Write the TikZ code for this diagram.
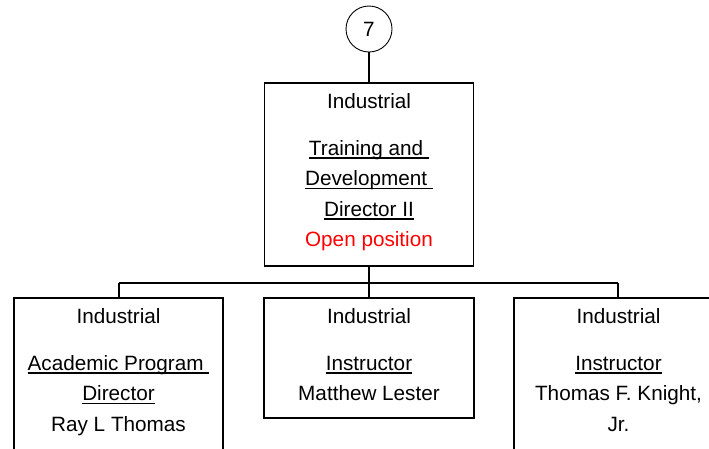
\documentclass[tikz,border=0pt]{standalone}
\usepackage{fontspec}
\setmainfont{Liberation Sans}
\newcommand\myul[1]{\setbox0\hbox{#1}\rlap{\vrule height -2.2pt depth 3.6pt width \wd0}\box0}
\begin{document}
\begin{tikzpicture}[x=1pt,y=-1pt,
  box/.style={draw=black,line width=1.6pt},
  conn/.style={draw=black,line width=1.6pt},
  txt/.style={anchor=base,inner sep=0pt,font=\fontsize{20.7}{24}\selectfont},
  numc/.style={draw=black,circle,line width=0.9pt,minimum size=46pt,inner sep=0pt,font=\fontsize{20.7}{24}\selectfont}]
\useasboundingbox (0,0) rectangle (709,448);
\clip (0,0) rectangle (709,448);
% nodes
\node[numc] (n7) at (369,29) {7};
\node[box,minimum width=209pt,minimum height=183pt,inner sep=0pt] (top) at (369,174.5) {};
\node[box,minimum width=209pt,minimum height=180pt,inner sep=0pt] (left) at (118.5,388) {};
\node[box,minimum width=210pt,minimum height=120pt,inner sep=0pt] (mid) at (369,358) {};
\node[box,minimum width=209pt,minimum height=180pt,inner sep=0pt] (right) at (618.5,388) {};
\coordinate (busL) at (119,283);
\coordinate (busM) at (369,283);
\coordinate (busR) at (618,283);
% connectors
\draw[conn] (n7.south) -- (n7.south |- top.north);
\draw[conn] (top.south) -- (busM) -- (mid.north);
\draw[conn] (busL) -- (busR);
\draw[conn] (busL) -- (busL |- left.north);
\draw[conn] (busR) -- (busR |- right.north);
% top box texts
\node[txt] (t1) at (369,108) {Industrial};
\node[txt] (t2) at (369,155) {\myul{Training and\ }};
\node[txt] (t3) at (369,185.5) {\myul{Development\ }};
\node[txt] (t4) at (369,216) {\myul{Director II}};
\node[txt,text=red] (t5) at (369,246.5) {Open position};
% left box
\node[txt] (l1) at (118.5,323) {Industrial};
\node[txt] (l2) at (118.5,370) {\myul{Academic Program\ }};
\node[txt] (l3) at (118.5,400.5) {\myul{Director}};
\node[txt] (l4) at (118.5,431) {Ray L Thomas};
% middle box
\node[txt] (m1) at (369,323) {Industrial};
\node[txt] (m2) at (369,370) {\myul{Instructor}};
\node[txt] (m3) at (369,400.5) {Matthew Lester};
% right box
\node[txt] (r1) at (618.5,323) {Industrial};
\node[txt] (r2) at (618.5,370) {\myul{Instructor}};
\node[txt] (r3) at (618.5,400.5) {Thomas F. Knight,};
\node[txt] (r4) at (618.5,431) {Jr.};
\end{tikzpicture}
\end{document}
